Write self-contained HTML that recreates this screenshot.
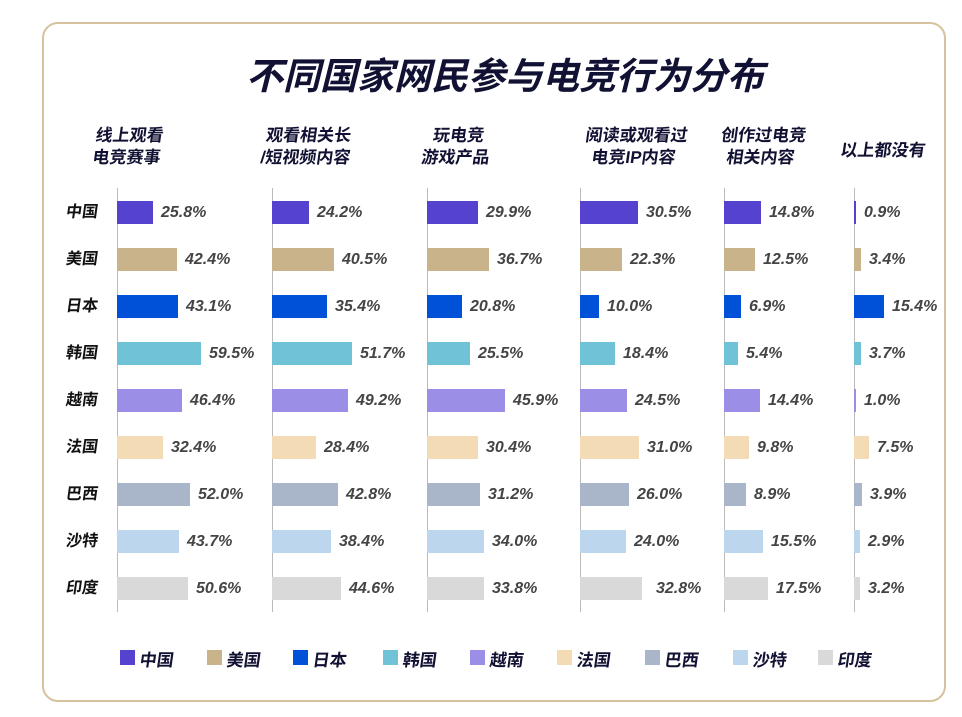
<!DOCTYPE html><html><head><meta charset="utf-8"><style>
body{margin:0;width:962px;height:717px;background:#fff;position:relative;font-family:"Liberation Sans","Noto Sans CJK SC",sans-serif;overflow:hidden}
.frame{position:absolute;left:42px;top:22px;width:904px;height:680px;border:2px solid #d6c29c;border-radius:16px;box-sizing:border-box}
.t{position:absolute;font-weight:bold;font-style:italic;color:#111133;white-space:nowrap}
.title{left:0;width:1010px;text-align:center;top:46px;font-size:37px}
.h{font-size:17px;text-align:center;line-height:22px;font-style:normal;font-weight:bold;transform:skewX(-8deg)}
.ax{position:absolute;width:1px;background:#bbb;top:188px;height:424px}
.bar{position:absolute;height:23px}
.v{position:absolute;font-size:16px;font-weight:bold;font-style:italic;color:#444;line-height:23px}
.c{position:absolute;left:66px;font-size:16px;font-weight:bold;color:#111;line-height:23px;transform:skewX(-8deg)}
.sq{position:absolute;width:15px;height:15px;top:650px}
.lg{position:absolute;top:646px;font-size:17px;font-weight:bold;color:#111133;transform:skewX(-8deg)}
</style></head><body>
<div class="frame"></div>
<div class="t title">不同国家网民参与电竞行为分布</div>
<div id="c"></div>
<script>
var heads=[["线上观看","电竞赛事",128],["观看相关长","/短视频内容",307],["玩电竞","游戏产品",457],["阅读或观看过","电竞IP内容",635],["创作过电竞","相关内容",762],["以上都没有","",883]];
var axes=[117,272,427,580,724,854],sc=[1.41,1.54,1.69,1.9,2.5,1.95];
var countries=["中国","美国","日本","韩国","越南","法国","巴西","沙特","印度"];
var cols=["#5543d0","#c9b38a","#0050d8","#70c2d6","#9a8ee6","#f3dcb5","#a9b5c9","#bcd6ee","#d9d9d9"];
var d=[[25.8,42.4,43.1,59.5,46.4,32.4,52.0,43.7,50.6],[24.2,40.5,35.4,51.7,49.2,28.4,42.8,38.4,44.6],[29.9,36.7,20.8,25.5,45.9,30.4,31.2,34.0,33.8],[30.5,22.3,10.0,18.4,24.5,31.0,26.0,24.0,32.8],[14.8,12.5,6.9,5.4,14.4,9.8,8.9,15.5,17.5],[0.9,3.4,15.4,3.7,1.0,7.5,3.9,2.9,3.2]];
var h="";
heads.forEach(function(x,i){var top=x[1]?125:140;h+='<div class="t h" style="left:'+(x[2]-75)+'px;width:150px;top:'+top+'px">'+x[0]+(x[1]?'<br>'+x[1]:'')+'</div>';});
countries.forEach(function(c,r){h+='<div class="c" style="top:'+(201+r*47)+'px">'+c+'</div>';});
axes.forEach(function(a,i){h+='<div class="ax" style="left:'+a+'px"></div>';
d[i].forEach(function(v,r){var w=Math.round(v*sc[i]),y=201+r*47;
h+='<div class="bar" style="left:'+a+'px;top:'+y+'px;width:'+w+'px;background:'+cols[r]+'"></div>';
h+='<div class="v" style="left:'+(a+w+(i==3&&r==8?14:8))+'px;top:'+y+'px">'+v.toFixed(1)+'%</div>';});});
var lx=[120,207,293,383,470,557,645,733,818];
countries.forEach(function(c,i){h+='<div class="sq" style="left:'+lx[i]+'px;background:'+cols[i]+'"></div><div class="lg" style="left:'+(lx[i]+20)+'px">'+c+'</div>';});
document.getElementById("c").innerHTML=h;
</script>
</body></html>
